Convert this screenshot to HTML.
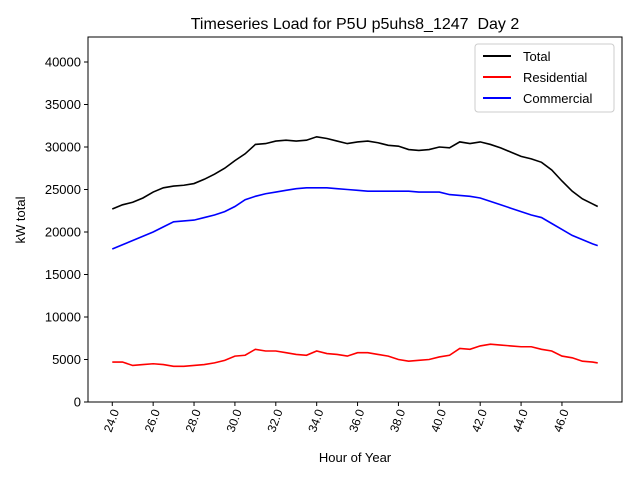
<!DOCTYPE html>
<html><head><meta charset="utf-8"><style>
body{margin:0;background:#fff}
svg{display:block;font-family:"Liberation Sans","DejaVu Sans",sans-serif}
</style></head><body>
<svg id="chart" width="640" height="480">
<rect width="640" height="480" fill="#fff"/>
<text x="355" y="29" font-size="16" text-anchor="middle">Timeseries Load for P5U p5uhs8_1247 &#160;Day 2</text>
<text x="355" y="462" font-size="13" text-anchor="middle">Hour of Year</text>
<text transform="translate(25,220) rotate(-90)" font-size="13" text-anchor="middle">kW total</text>
<g id="grid"></g>
<g id="series"></g>
<rect x="88" y="37" width="534" height="365" fill="none" stroke="#000" stroke-width="1"/>
<g>
<rect x="475" y="44" width="139" height="68" fill="#fff" stroke="#ccc" rx="3"/>
<line x1="483" y1="56" x2="511" y2="56" stroke="#000" stroke-width="2"/>
<text x="523" y="61" font-size="13">Total</text>
<line x1="483" y1="77" x2="511" y2="77" stroke="red" stroke-width="2"/>
<text x="523" y="82" font-size="13">Residential</text>
<line x1="483" y1="98" x2="511" y2="98" stroke="blue" stroke-width="2"/>
<text x="523" y="103" font-size="13">Commercial</text>
</g>
</svg>
<script>
const hours=[24,24.5,25,25.5,26,26.5,27,27.5,28,28.5,29,29.5,30,30.5,31,31.5,32,32.5,33,33.5,34,34.5,35,35.5,36,36.5,37,37.5,38,38.5,39,39.5,40,40.5,41,41.5,42,42.5,43,43.5,44,44.5,45,45.5,46,46.5,47,47.5,47.75];
const total=[22700,23200,23500,24000,24700,25200,25400,25500,25700,26200,26800,27500,28400,29200,30300,30400,30700,30800,30700,30800,31200,31000,30700,30400,30600,30700,30500,30200,30100,29700,29600,29700,30000,29900,30600,30400,30600,30300,29900,29400,28900,28600,28200,27300,26000,24800,23900,23300,23000];
const residential=[4700,4700,4300,4400,4500,4400,4200,4200,4300,4400,4600,4900,5400,5500,6200,6000,6000,5800,5600,5500,6000,5700,5600,5400,5800,5800,5600,5400,5000,4800,4900,5000,5300,5500,6300,6200,6600,6800,6700,6600,6500,6500,6200,6000,5400,5200,4800,4700,4600];
const commercial=[18000,18500,19000,19500,20000,20600,21200,21300,21400,21700,22000,22400,23000,23800,24200,24500,24700,24900,25100,25200,25200,25200,25100,25000,24900,24800,24800,24800,24800,24800,24700,24700,24700,24400,24300,24200,24000,23600,23200,22800,22400,22000,21700,21000,20300,19600,19100,18600,18400];
const xTicks=[24,26,28,30,32,34,36,38,40,42,44,46];
const yTicks=[0,5000,10000,15000,20000,25000,30000,35000,40000];
const NS="http://www.w3.org/2000/svg";
const X0=88,X1=622,Y0=402,Y1=37,xmin=22.8125,xmax=48.9375,ymin=0,ymax=42941;
const sx=v=>X0+(v-xmin)/(xmax-xmin)*(X1-X0);
const sy=v=>Y0-(v-ymin)/(ymax-ymin)*(Y0-Y1);
const g=document.getElementById('grid');
function mk(t,a){const e=document.createElementNS(NS,t);for(const k in a)e.setAttribute(k,a[k]);return e;}
xTicks.forEach(t=>{
 const l=mk('line',{x1:sx(t),x2:sx(t),y1:Y0,y2:Y0+4,stroke:'#000'});
 
 
 g.appendChild(l);
 const tx=mk('text',{transform:`translate(${sx(t)+4},${Y0+8}) rotate(-70)`,'font-size':12,'text-anchor':'end','dominant-baseline':'middle'});
 tx.textContent=t.toFixed(1);
 
 
 g.appendChild(tx);
});
yTicks.forEach(t=>{
 const l=mk('line',{x1:X0-4,x2:X0,y1:sy(t),y2:sy(t),stroke:'#000'});
 
 
 g.appendChild(l);
 const tx=mk('text',{x:X0-7,y:sy(t)+4.5,'font-size':13,'text-anchor':'end'});
 tx.textContent=t;
 
 
 g.appendChild(tx);
});
const s=document.getElementById('series');
[[total,'#000','total-line'],[residential,'red','residential-line'],[commercial,'blue','commercial-line']].forEach(([d,c,n])=>{
 const p=mk('polyline',{points:d.map((v,i)=>sx(hours[i])+','+sy(v)).join(' '),fill:'none',stroke:c,'stroke-width':1.6});
 
 
 s.appendChild(p);
});
</script>
</body></html>
